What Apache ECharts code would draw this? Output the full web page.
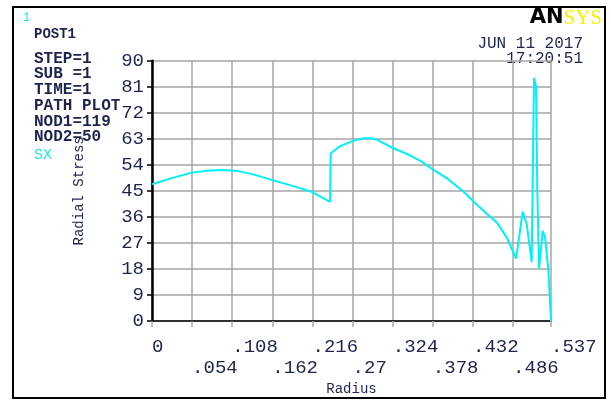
<!DOCTYPE html>
<html>
<head>
<meta charset="utf-8">
<script src="https://cdn.jsdelivr.net/npm/echarts@6/dist/echarts.min.js"></script>
<style>
  html, body { margin: 0; padding: 0; background: #ffffff; }
  #chart { width: 611px; height: 401px; }
</style>
</head>
<body>
<div id="chart"></div>
<script>
// Path plot of radial stress SX along the radius
const radius = [
  0.000, 0.0265, 0.0534, 0.078, 0.096, 0.114, 0.1364, 0.161, 0.188, 0.2157, 0.2396,
  0.2405, 0.2527, 0.2696, 0.2844, 0.2957, 0.3024, 0.3234, 0.347, 0.363, 0.3778,
  0.3966, 0.419, 0.4324, 0.4505, 0.464, 0.4774, 0.490, 0.4989, 0.5043, 0.511,
  0.5141, 0.5168, 0.5186, 0.5209, 0.5258, 0.529, 0.5334, 0.537
];
const stress = [
  47.3, 49.4, 51.3, 52.0, 52.2, 51.9, 50.7, 48.8, 46.8, 44.6, 41.2,
  57.9, 60.4, 62.2, 63.2, 63.2, 62.7, 59.9, 57.3, 55.1, 52.4,
  49.4, 44.8, 41.4, 37.1, 34.1, 28.9, 21.6, 37.8, 33.5, 20.4,
  84.0, 81.1, 44.8, 18.1, 31.2, 28.9, 17.7, 0.0
];

const xTickLabels = ['0', '.054', '.108', '.162', '.216', '.27', '.324', '.378', '.432', '.486', '.537'];
const xStep = 0.054;
const xMax = 0.537;
const yStep = 9;
const yMax = 90;

const infoLines = ['STEP=1', 'SUB =1', 'TIME=1', 'PATH PLOT', 'NOD1=119', 'NOD2=50'];
const stampDate = 'JUN 11 2017';
const stampTime = '17:20:51';

const ink = '#1e2450';
const gridGray = '#a6a6a6';
const mono = '"Liberation Mono", "DejaVu Sans Mono", monospace';

const chart = echarts.init(document.getElementById('chart'));

const infoY = [59, 74, 90, 106, 122, 137];
const graphics = [
  { type: 'rect', shape: { x: 13, y: 7, width: 592, height: 391 },
    style: { fill: null, stroke: '#000', lineWidth: 2 }, z: 10 },
  { type: 'text', x: 23, y: 18, style: { text: '1', fill: '#22e6f0', font: '12px ' + mono, textVerticalAlign: 'middle' } },
  { type: 'text', x: 34, y: 34, style: { text: 'POST1', fill: ink, font: 'bold 14px ' + mono, textVerticalAlign: 'middle' } },
  { type: 'text', x: 34, y: 155, style: { text: 'SX', fill: '#22e6f0', font: '15px ' + mono, textVerticalAlign: 'middle' } },
  { type: 'text', x: 583, y: 44, style: { text: stampDate, fill: ink, font: '16px ' + mono, textAlign: 'right', textVerticalAlign: 'middle' } },
  { type: 'text', x: 583, y: 59, style: { text: stampTime, fill: ink, font: '16px ' + mono, textAlign: 'right', textVerticalAlign: 'middle' } },
  { type: 'text', x: 602, y: 18,
    style: {
      text: '{a|AN}{b|SYS}', textAlign: 'right', textVerticalAlign: 'middle',
      rich: {
        a: { fill: '#000', font: 'bold 21px "DejaVu Sans", sans-serif' },
        b: { fill: '#f4f000', font: '21px "Liberation Serif", serif' }
      }
    } }
];
infoLines.forEach((t, i) => {
  graphics.push({ type: 'text', x: 34, y: infoY[i],
    style: { text: t, fill: ink, font: 'bold 16px ' + mono, textVerticalAlign: 'middle' } });
});

// Radius tick labels alternate between two rows: even steps on the
// first row, odd steps on a second, offset axis.
function tickLabel(v, row) {
  const k = Math.round(v / xStep);
  return k % 2 === row ? xTickLabels[k] : '';
}

const labelStyle = { color: ink, fontFamily: mono, fontSize: 19 };

chart.setOption({
  animation: false,
  backgroundColor: '#ffffff',
  grid: { left: 152, right: 60, top: 60.7, bottom: 76, containLabel: false },
  xAxis: [{
    type: 'value', min: 0, max: xMax, interval: xStep,
    name: 'Radius', nameLocation: 'middle', nameGap: 61,
    nameTextStyle: { color: ink, fontFamily: mono, fontSize: 14 },
    axisLine: { show: true, onZero: false, lineStyle: { color: '#000', width: 1.5 } },
    axisTick: { show: true, length: 6, lineStyle: { color: gridGray, width: 1.5 } },
    splitLine: { show: true, lineStyle: { color: gridGray, width: 1.5 } },
    axisLabel: Object.assign({
      showMinLabel: true, showMaxLabel: true, align: 'left', margin: 16,
      formatter: v => tickLabel(v, 0)
    }, labelStyle)
  }, {
    type: 'value', min: 0, max: xMax, interval: xStep, position: 'bottom', offset: 21,
    axisLine: { show: false }, axisTick: { show: false }, splitLine: { show: false },
    axisLabel: Object.assign({
      showMinLabel: true, showMaxLabel: true, align: 'left', margin: 16,
      formatter: v => tickLabel(v, 1)
    }, labelStyle)
  }],
  yAxis: {
    type: 'value', min: 0, max: yMax, interval: yStep,
    name: 'Radial Stress', nameLocation: 'middle', nameRotate: 90, nameGap: 66,
    nameTextStyle: { color: ink, fontFamily: mono, fontSize: 14 },
    axisLine: { show: true, lineStyle: { color: '#000', width: 2.5 } },
    axisTick: { show: true, length: 5, lineStyle: { color: '#000', width: 1.5 } },
    splitLine: { show: true, lineStyle: { color: gridGray, width: 1.5 } },
    axisLabel: Object.assign({ margin: 8 }, labelStyle)
  },
  series: [{
    type: 'line',
    xAxisIndex: 0,
    data: radius.map((r, i) => [r, stress[i]]),
    showSymbol: false,
    clip: false,
    lineStyle: { color: '#00f0f8', width: 2 },
    z: 5
  }],
  graphic: graphics
});
</script>
</body>
</html>
